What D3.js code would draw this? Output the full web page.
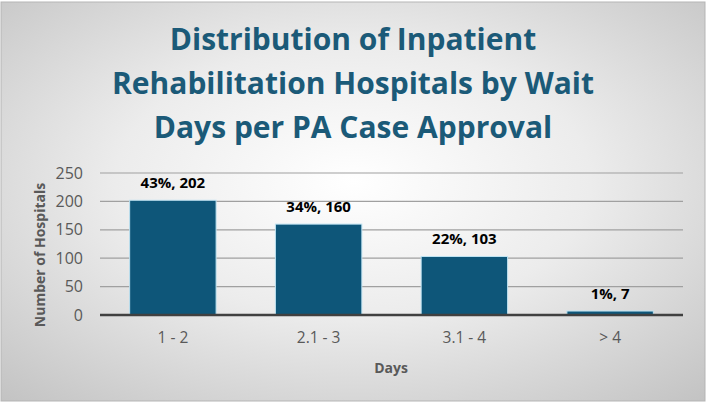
<!DOCTYPE html>
<html>
<head>
<meta charset="utf-8">
<script src="https://cdn.jsdelivr.net/npm/d3@7"></script>
<style>
html,body{margin:0;padding:0;background:#fff;}
svg{display:block;}
</style>
</head>
<body>
<svg id="chart" width="707" height="404"></svg>
<script>
const categories = ["1 - 2", "2.1 - 3", "3.1 - 4", "> 4"];
const values = [202, 160, 103, 7];
const percents = ["43%", "34%", "22%", "1%"];
const yTicks = [0, 50, 100, 150, 200, 250];
const titleLines = ["Distribution of Inpatient", "Rehabilitation Hospitals by Wait", "Days per PA Case Approval"];

const W = 707, H = 404;
const svg = d3.select("#chart");
const defs = svg.append("defs");
const grad = defs.append("radialGradient").attr("id", "bg")
  .attr("cx", "50%").attr("cy", "45%").attr("r", "75%");
grad.append("stop").attr("offset", "0%").attr("stop-color", "#ffffff");
grad.append("stop").attr("offset", "45%").attr("stop-color", "#ececec");
grad.append("stop").attr("offset", "100%").attr("stop-color", "#c2c2c2");

svg.append("rect").attr("x", 0).attr("y", 0).attr("width", W).attr("height", H).attr("fill", "#ffffff");
svg.append("rect").attr("x", 1).attr("y", 2).attr("width", W - 3).attr("height", H - 5)
  .attr("fill", "url(#bg)").attr("stroke", "#b5b5b5").attr("stroke-width", 1);

const x = d3.scaleBand().domain(categories).range([100, 683]).paddingInner(0.407).paddingOuter(0.2035);
const y = d3.scaleLinear().domain([0, 250]).range([315, 173]);

// gridlines
svg.append("g").selectAll("line").data(yTicks.filter(d => d > 0)).join("line")
  .attr("x1", 100).attr("x2", 683)
  .attr("y1", d => y(d)).attr("y2", d => y(d))
  .attr("stroke", "#a0a0a0").attr("stroke-width", 1.2);

// bars
svg.append("g").selectAll("rect").data(values).join("rect")
  .attr("x", (d, i) => x(categories[i]))
  .attr("y", d => y(d))
  .attr("width", x.bandwidth())
  .attr("height", d => y(0) - y(d))
  .attr("fill", "#0e5679")
  .attr("stroke", "#bfe3f2").attr("stroke-width", 1);

// baseline axis
svg.append("line").attr("x1", 100).attr("x2", 683).attr("y1", y(0)).attr("y2", y(0))
  .attr("stroke", "#404040").attr("stroke-width", 2.5);

// y axis labels
const yAxis = d3.axisLeft(y).tickValues(yTicks).tickSize(0).tickPadding(0);
const gy = svg.append("g").attr("transform", "translate(83,0)").call(yAxis);
gy.select(".domain").remove();
gy.selectAll("text").attr("font-family", "'Open Sans', sans-serif").attr("font-size", 16)
  .attr("fill", "#595959");

// x axis labels
const xAxis = d3.axisBottom(x).tickSize(0).tickPadding(0);
const gx = svg.append("g").attr("transform", "translate(0,332)").call(xAxis);
gx.select(".domain").remove();
gx.selectAll("text").attr("font-family", "'Open Sans', sans-serif").attr("font-size", 15.5)
  .attr("fill", "#595959");

// data labels
svg.append("g").selectAll("text").data(values).join("text")
  .attr("x", (d, i) => x(categories[i]) + x.bandwidth() / 2)
  .attr("y", d => y(d) - 12.5)
  .attr("text-anchor", "middle")
  .attr("font-family", "'Open Sans', sans-serif").attr("font-weight", 700).attr("font-size", 15)
  .attr("fill", "#000")
  .text((d, i) => percents[i] + ", " + d);

// axis titles
svg.append("text").attr("x", 391).attr("y", 373).attr("text-anchor", "middle")
  .attr("font-family", "'Open Sans', sans-serif").attr("font-weight", 700).attr("font-size", 14)
  .attr("fill", "#595959").text("Days");
svg.append("text").attr("transform", "translate(45,255) rotate(-90)").attr("text-anchor", "middle")
  .attr("font-family", "'Open Sans', sans-serif").attr("font-weight", 700).attr("font-size", 14)
  .attr("fill", "#595959").text("Number of Hospitals");

// title
const titleBase = [50, 94, 138];
svg.append("g").selectAll("text").data(titleLines).join("text")
  .attr("x", 353).attr("y", (d, i) => titleBase[i])
  .attr("text-anchor", "middle")
  .attr("font-family", "'Open Sans', sans-serif").attr("font-weight", 700).attr("font-size", 30)
  .attr("fill", "#1b5a78")
  .text(d => d);
</script>
</body>
</html>
